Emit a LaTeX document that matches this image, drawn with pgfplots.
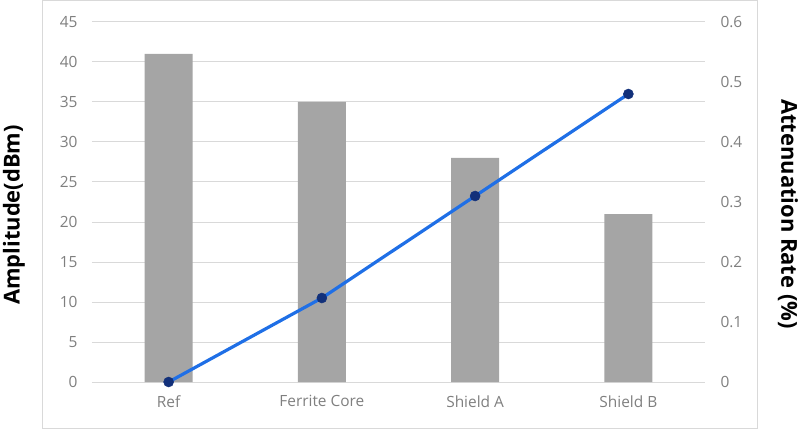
\documentclass[border=0pt]{standalone}
\usepackage{fontspec}
\setmainfont{Open Sans}
\usepackage{pgfplots}
\pgfplotsset{compat=1.18}

\definecolor{barGray}{HTML}{A5A5A5}
\definecolor{lineBlue}{HTML}{1F6FE6}
\definecolor{markNavy}{HTML}{12307A}
\definecolor{gridGray}{HTML}{D9D9D9}
\definecolor{tickGray}{HTML}{7F7F7F}

\pgfplotsset{
  common/.style={
    scale only axis, width=613bp, height=360bp,
    at={(0,0)}, anchor=south west,
    xmin=-0.5, xmax=3.5,
    axis line style={draw=none},
    major tick length=0,
    tick label style={font=\fontsize{15.5}{18}\selectfont, text=tickGray},
    label style={font=\bfseries\fontsize{22}{26}\selectfont},
    /pgf/number format/assume math mode=true,
  }
}

\begin{document}
\begin{tikzpicture}
\useasboundingbox (-92bp,-47bp) rectangle (708bp,382bp);
\draw[gridGray, line width=1bp] (-49bp,-46bp) rectangle (665bp,381.5bp);

% bars: amplitude
\begin{axis}[common,
  ymin=0, ymax=45, ytick={0,5,...,45},
  ymajorgrids, grid style={gridGray, line width=1bp},
  xtick={0,1,2,3},
  xticklabels={Ref,Ferrite Core,Shield A,Shield B},
  xticklabel style={yshift=-10bp},
  yticklabel style={xshift=-11bp},
  ylabel={Amplitude(dBm)},
  ylabel style={at={(axis description cs:-0.1272,0.464)}, anchor=center},
  ybar, bar width=48bp,
]
\addplot[fill=barGray, draw=none] coordinates {(0,41) (1,35) (2,28) (3,21)};
\end{axis}

% line: attenuation rate
\begin{axis}[common,
  axis y line*=right, hide x axis,
  ymin=0, ymax=0.6, ytick={0,0.1,0.2,0.3,0.4,0.5,0.6},
  yticklabels={0,0.1,0.2,0.3,0.4,0.5,0.6},
  yticklabel style={xshift=12bp},
  ylabel={Attenuation Rate (\%)},
  ylabel style={at={(axis description cs:1.1354,0.4667)}, anchor=center, rotate=180},
  clip=false,
]
\addplot[lineBlue, line width=3.2bp, mark=*, mark size=5bp,
  mark options={fill=markNavy, draw=markNavy, line width=0.5bp}]
  coordinates {(0,0) (1,0.14) (2,0.31) (3,0.48)};
\end{axis}
\end{tikzpicture}
\end{document}
